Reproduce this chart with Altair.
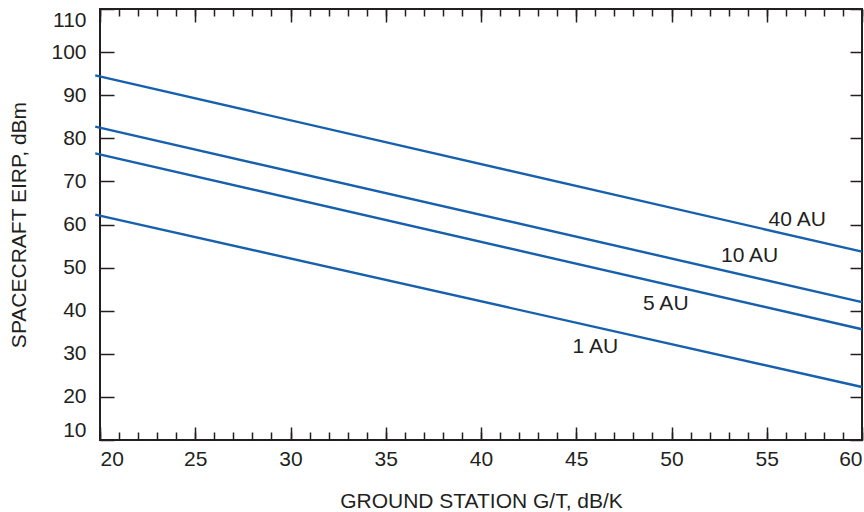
import altair as alt
import pandas as pd

# ---- data ----
series_names = ["40 AU", "10 AU", "5 AU", "1 AU"]
gt_points = [19.75, 60.0]
eirp_40au = [94.6, 53.7]
eirp_10au = [82.7, 42.0]
eirp_5au = [76.5, 35.7]
eirp_1au = [62.3, 22.3]

label_text = ["40 AU", "10 AU", "5 AU", "1 AU"]
label_gt = [56.6, 54.1, 49.7, 46.0]
label_eirp = [61.0, 52.6, 41.5, 31.5]

x_major = [20, 25, 30, 35, 40, 45, 50, 55, 60]
x_minor = [20, 21, 22, 23, 24, 25, 26, 27, 28, 29, 30, 31, 32, 33, 34, 35, 36, 37,
           38, 39, 40, 41, 42, 43, 44, 45, 46, 47, 48, 49, 50, 51, 52, 53, 54, 55,
           56, 57, 58, 59, 60]
y_major = [10, 20, 30, 40, 50, 60, 70, 80, 90, 100, 110]

rows = []
for name, vals in zip(series_names, [eirp_40au, eirp_10au, eirp_5au, eirp_1au]):
    for g, e in zip(gt_points, vals):
        rows.append({"series": name, "gt": g, "eirp": e})
df = pd.DataFrame(rows)
labels = pd.DataFrame({"text": label_text, "gt": label_gt, "eirp": label_eirp})

BLUE = "#1660ad"
INK = "#231f20"
FONT = "Liberation Sans"

xs = alt.Scale(domain=[20, 60], nice=False, zero=False)
ys = alt.Scale(domain=[10, 110], nice=False, zero=False)

common = dict(domain=False, grid=False, tickColor=INK, tickWidth=1.5)

ax_bottom = alt.Axis(orient="bottom", values=x_major, offset=-13, tickSize=13,
                     labelFlush=True, labelPadding=8, labelFontSize=21,
                     title="GROUND STATION G/T, dB/K",
                     titlePadding=21, **common)
ax_bottom_minor = alt.Axis(orient="bottom", values=x_minor, offset=-8, tickSize=8,
                           labels=False, title=None, **common)
ax_top = alt.Axis(orient="top", values=x_major, offset=-13, tickSize=13,
                  labels=False, title=None, **common)
ax_top_minor = alt.Axis(orient="top", values=x_minor, offset=-7, tickSize=7,
                        labels=False, title=None, **common)
ax_left = alt.Axis(orient="left", values=y_major, offset=-14, tickSize=14,
                   labelFlush=True, labelPadding=14, labelFontSize=21,
                   title="SPACECRAFT EIRP, dBm",
                   titlePadding=21, **common)
ax_right = alt.Axis(orient="right", values=y_major, offset=-12, tickSize=12,
                    labels=False, title=None, **common)

lines = alt.Chart(df).mark_line(color=BLUE, strokeWidth=2.4).encode(
    x=alt.X("gt:Q", scale=xs, axis=ax_bottom),
    y=alt.Y("eirp:Q", scale=ys, axis=ax_left),
    detail="series:N",
)
axes2 = alt.Chart(df).mark_line(strokeOpacity=0).encode(
    x=alt.X("gt:Q", scale=xs, axis=ax_bottom_minor),
    y=alt.Y("eirp:Q", scale=ys, axis=ax_right),
    detail="series:N",
)
axes3 = alt.Chart(df).mark_line(strokeOpacity=0).encode(
    x=alt.X("gt:Q", scale=xs, axis=ax_top),
    y=alt.Y("eirp:Q", scale=ys, axis=None),
    detail="series:N",
)
axes4 = alt.Chart(df).mark_line(strokeOpacity=0).encode(
    x=alt.X("gt:Q", scale=xs, axis=ax_top_minor),
    y=alt.Y("eirp:Q", scale=ys, axis=None),
    detail="series:N",
)
texts = alt.Chart(labels).mark_text(font=FONT, fontSize=21, color=INK).encode(
    x=alt.X("gt:Q", scale=xs, axis=None),
    y=alt.Y("eirp:Q", scale=ys, axis=None),
    text="text:N",
)

chart = (
    alt.layer(lines, axes2, axes3, axes4, texts)
    .resolve_axis(x="independent", y="independent")
    .properties(
        width=762, height=431,
        padding={"left": 100, "top": 9, "right": 2, "bottom": 72},
        autosize=alt.AutoSizeParams(type="none"),
        background="white",
    )
    .configure_view(stroke=INK, strokeWidth=2)
    .configure_axis(labelFont=FONT, labelColor=INK,
                    titleFont=FONT, titleFontSize=21, titleColor=INK,
                    titleFontWeight="normal")
)

chart.save("out.html", embed_options={"renderer": "svg", "actions": False})
